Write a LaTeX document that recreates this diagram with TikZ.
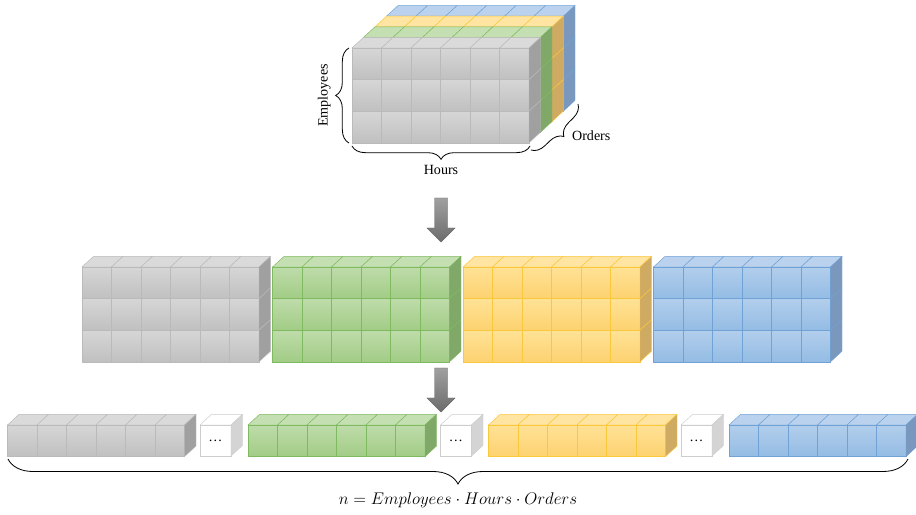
\documentclass[tikz,border=0pt]{standalone}
\usepackage{fontspec}
\setmainfont{Liberation Serif}
\usetikzlibrary{decorations.pathreplacing}

% cube colours: hi/lo = front gradient, top, side, line
\definecolor{grayhi}{RGB}{214,214,214}
\definecolor{graylo}{RGB}{192,192,192}
\definecolor{graytop}{RGB}{218,218,218}
\definecolor{grayside}{RGB}{160,160,160}
\definecolor{grayline}{RGB}{186,186,186}
\definecolor{greenhi}{RGB}{190,220,170}
\definecolor{greenlo}{RGB}{162,204,134}
\definecolor{greentop}{RGB}{196,224,178}
\definecolor{greenside}{RGB}{128,168,104}
\definecolor{greenline}{RGB}{128,186,96}
\definecolor{yellowhi}{RGB}{255,226,150}
\definecolor{yellowlo}{RGB}{253,210,112}
\definecolor{yellowtop}{RGB}{255,228,162}
\definecolor{yellowside}{RGB}{206,170,98}
\definecolor{yellowline}{RGB}{250,200,60}
\definecolor{bluehi}{RGB}{178,206,236}
\definecolor{bluelo}{RGB}{148,188,228}
\definecolor{bluetop}{RGB}{186,210,238}
\definecolor{blueside}{RGB}{122,152,190}
\definecolor{blueline}{RGB}{112,162,214}
\definecolor{dotsline}{RGB}{205,205,205}
\definecolor{dotsside}{RGB}{212,212,212}

\tikzstyle{curly} = [decorate, decoration={brace, amplitude=0.4cm}, line width=0.7pt]
\tikzstyle{labeltext} = [font=\fontsize{12}{14}\selectfont]
\tikzstyle{bigarrow} = [draw={rgb,255:red,105;green,105;blue,105}, top color={rgb,255:red,160;green,160;blue,160}, bottom color={rgb,255:red,108;green,108;blue,108}]

% cell size and depth offset (px)
\newcommand{\cw}{29.5}
\newcommand{\ch}{31.6}
\newcommand{\dx}{11.5}
\newcommand{\dy}{10.6}

% block of cubes: #1,#2 = top-left of front face, #3 columns, #4 rows, #5 colour
\newcommand{\cubeblock}[5]{%
  \foreach \i in {1,...,#3}{
    \foreach \j in {1,...,#4}{
      \draw[#5line, top color=#5hi, bottom color=#5lo]
        ({#1+(\i-1)*\cw},{#2+(\j-1)*\ch}) rectangle ++(\cw,\ch);
    }
    \draw[#5line, fill=#5top] ({#1+(\i-1)*\cw},{#2}) -- ++(\dx,-\dy) -- ++(\cw,0) -- ++(-\dx,\dy) -- cycle;
  }
  \foreach \j in {1,...,#4}{
    \draw[#5line, fill=#5side] ({#1+#3*\cw},{#2+(\j-1)*\ch}) -- ++(\dx,-\dy) -- ++(0,\ch) -- ++(-\dx,\dy) -- cycle;
  }
}

% block arrow pointing down, #1 = centre x, #2 = top y
\newcommand{\blockarrow}[2]{%
  \draw[bigarrow] (#1-6.5,#2) -- (#1+6.5,#2) -- (#1+6.5,#2+30) -- (#1+14,#2+30)
    -- (#1,#2+44) -- (#1-14,#2+30) -- (#1-6.5,#2+30) -- cycle;
}

\begin{document}
\begin{tikzpicture}[x=0.03cm, y=-0.03cm]
\useasboundingbox (0,0) rectangle (916,515);

% Cube: one layer per order, drawn back to front
\foreach \c [count=\k from 0] in {blue,yellow,green,gray}{
  \cubeblock{352+(3-\k)*\dx}{48-(3-\k)*\dy}{6}{3}{\c}
}

% Axes braces
\coordinate (empbot) at (349,143);
\coordinate (emptop) at (349,48);
\draw[curly] (empbot) -- (emptop)
  node[midway, left=0.42cm, anchor=south, rotate=90, labeltext] (employees) {Employees};
\coordinate (hoursright) at (530,146);
\coordinate (hoursleft) at (352,146);
\draw[curly] (hoursright) -- (hoursleft)
  node[midway, below=0.45cm, labeltext] (hours) {Hours};
\coordinate (ordersback) at (578,104);
\coordinate (ordersfront) at (531,150);
\draw[curly] (ordersback) -- (ordersfront);
\node[labeltext, anchor=west] (orders) at (568,136) {Orders};

\blockarrow{441}{198}

% Middle row: one block per order
\foreach \c [count=\k from 0] in {gray,green,yellow,blue}{
  \cubeblock{82+\k*190.5}{267}{6}{3}{\c}
}

\blockarrow{441}{368}

% Bottom row: flattened vector
\foreach \c [count=\k from 0] in {gray,green,yellow,blue}{
  \cubeblock{7.5+\k*240.5}{425}{6}{1}{\c}
}
\foreach \k in {0,1,2}{
  \draw[dotsline, fill=white] (200+\k*240.5,425) rectangle ++(31,31);
  \draw[dotsline, fill=white] (200+\k*240.5,425) -- ++(\dx,-\dy) -- ++(31,0) -- ++(-\dx,\dy) -- cycle;
  \draw[dotsline, fill=dotsside] (231+\k*240.5,425) -- ++(\dx,-\dy) -- ++(0,31) -- ++(-\dx,\dy) -- cycle;
  \node[labeltext] (dots\k) at (215.5+\k*240.5,441) {\ldots};
}

% Length of the vector
\coordinate (vecright) at (908,459);
\coordinate (vecleft) at (8,459);
\draw[curly, decoration={amplitude=0.75cm}] (vecright) -- (vecleft)
  node[midway, below=0.88cm, font=\fontsize{15.5}{18}\selectfont] (length)
  {$n = Employees \cdot Hours \cdot Orders$};
\end{tikzpicture}
\end{document}
